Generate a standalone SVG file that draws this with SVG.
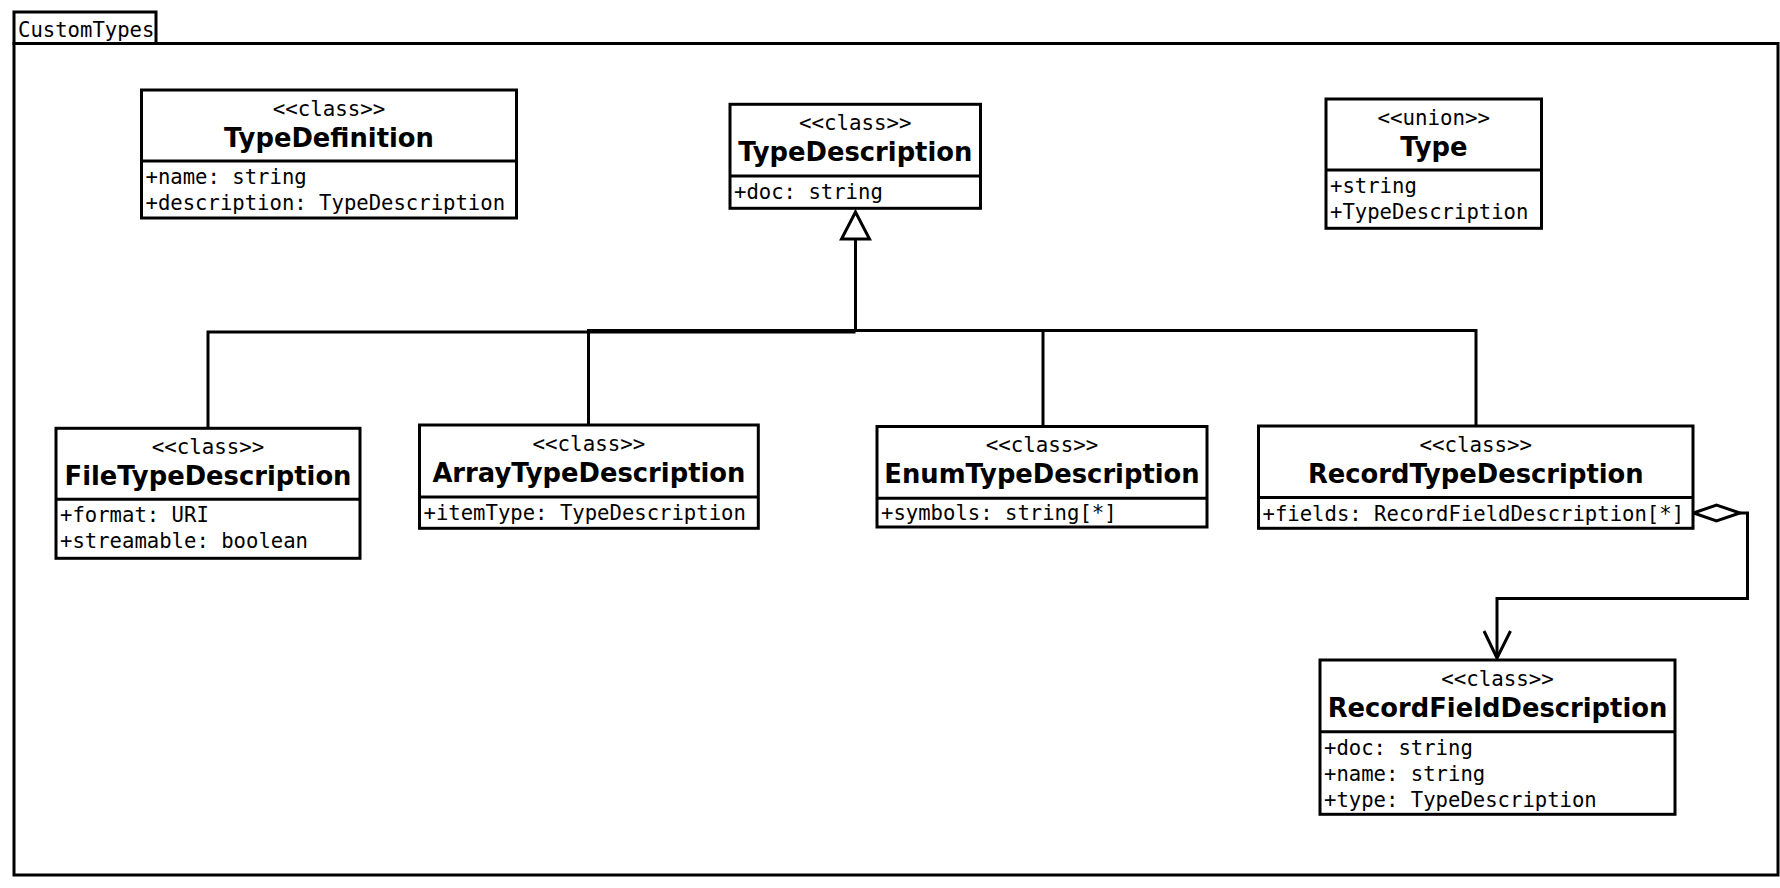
<svg xmlns="http://www.w3.org/2000/svg" width="1780" height="888" viewBox="0 0 1780 888">
<style>
.box{fill:#fff;stroke:#000;stroke-width:3}
.ln{fill:none;stroke:#000;stroke-width:3}
.mono{font-family:"DejaVu Sans Mono","Liberation Mono",monospace;font-size:20.6px;fill:#000}
.st{font-family:"DejaVu Sans Mono","Liberation Mono",monospace;font-size:20.8px;fill:#000;text-anchor:middle}
.nm{font-family:"DejaVu Sans","Liberation Sans",sans-serif;font-size:25.8px;font-weight:bold;fill:#000;text-anchor:middle}
</style>
<rect width="1780" height="888" fill="#fff"/>
<g id="package">
<rect class="box" x="14" y="12" width="142" height="31.5"/>
<rect class="ln" x="14" y="43.5" width="1764" height="831.5"/>
<text class="mono" x="18" y="36.5">CustomTypes</text>
</g>
<g id="connectors">
<path class="ln" d="M208 428.3 V332 H855.5"/>
<path class="ln" d="M588.5 425 V330.5 H1476 V426"/>
<path class="ln" d="M1043 426.5 V330.5"/>
<path class="ln" d="M855.5 330.5 V239"/>
<polygon class="box" points="855.5,212 841.5,239 869.5,239"/>
<path class="ln" d="M1740 513 H1747.5 V598.5 H1497 V657"/>
<polygon class="box" points="1693.5,513 1716.5,505 1740,513 1716.5,521"/>
<polyline class="ln" points="1484,631 1497,658 1510.5,631"/>
</g>
<g id="TypeDefinition">
<rect class="box" x="141.5" y="90" width="375" height="128"/>
<line class="ln" x1="141.5" y1="161" x2="516.5" y2="161"/>
<text class="st" x="329" y="115.5">&lt;&lt;class&gt;&gt;</text>
<text class="nm" x="329" y="146.5">TypeDefinition</text>
<text class="mono" x="145.5" y="184">+name: string</text>
<text class="mono" x="145.5" y="210">+description: TypeDescription</text>
</g>
<g id="TypeDescription">
<rect class="box" x="730" y="104.3" width="250.5" height="104"/>
<line class="ln" x1="730" y1="176" x2="980.5" y2="176"/>
<text class="st" x="855.3" y="129.8">&lt;&lt;class&gt;&gt;</text>
<text class="nm" x="855.3" y="160.8">TypeDescription</text>
<text class="mono" x="734" y="199">+doc: string</text>
</g>
<g id="Type">
<rect class="box" x="1326" y="99" width="215.5" height="129.3"/>
<line class="ln" x1="1326" y1="170" x2="1541.5" y2="170"/>
<text class="st" x="1433.8" y="124.5">&lt;&lt;union&gt;&gt;</text>
<text class="nm" x="1433.8" y="155.5">Type</text>
<text class="mono" x="1330" y="193">+string</text>
<text class="mono" x="1330" y="219">+TypeDescription</text>
</g>
<g id="FileTypeDescription">
<rect class="box" x="56" y="428.3" width="304" height="130"/>
<line class="ln" x1="56" y1="499.3" x2="360" y2="499.3"/>
<text class="st" x="208" y="453.8">&lt;&lt;class&gt;&gt;</text>
<text class="nm" x="208" y="484.8">FileTypeDescription</text>
<text class="mono" x="60" y="522.3">+format: URI</text>
<text class="mono" x="60" y="548.3">+streamable: boolean</text>
</g>
<g id="ArrayTypeDescription">
<rect class="box" x="419.5" y="425" width="338.8" height="103.3"/>
<line class="ln" x1="419.5" y1="497" x2="758.3" y2="497"/>
<text class="st" x="588.9" y="450.5">&lt;&lt;class&gt;&gt;</text>
<text class="nm" x="588.9" y="481.5">ArrayTypeDescription</text>
<text class="mono" x="423.5" y="520">+itemType: TypeDescription</text>
</g>
<g id="EnumTypeDescription">
<rect class="box" x="877" y="426.5" width="330" height="100.5"/>
<line class="ln" x1="877" y1="498.3" x2="1207" y2="498.3"/>
<text class="st" x="1042" y="452">&lt;&lt;class&gt;&gt;</text>
<text class="nm" x="1042" y="483">EnumTypeDescription</text>
<text class="mono" x="881" y="520.3">+symbols: string[*]</text>
</g>
<g id="RecordTypeDescription">
<rect class="box" x="1258.5" y="426" width="434.5" height="102.3"/>
<line class="ln" x1="1258.5" y1="497.5" x2="1693" y2="497.5"/>
<text class="st" x="1475.8" y="451.5">&lt;&lt;class&gt;&gt;</text>
<text class="nm" x="1475.8" y="482.5">RecordTypeDescription</text>
<text class="mono" x="1262.5" y="520.5">+fields: RecordFieldDescription[*]</text>
</g>
<g id="RecordFieldDescription">
<rect class="box" x="1320" y="660" width="355" height="154.3"/>
<line class="ln" x1="1320" y1="731.7" x2="1675" y2="731.7"/>
<text class="st" x="1497.5" y="685.5">&lt;&lt;class&gt;&gt;</text>
<text class="nm" x="1497.5" y="716.5">RecordFieldDescription</text>
<text class="mono" x="1324" y="754.7">+doc: string</text>
<text class="mono" x="1324" y="780.7">+name: string</text>
<text class="mono" x="1324" y="806.7">+type: TypeDescription</text>
</g>
</svg>
